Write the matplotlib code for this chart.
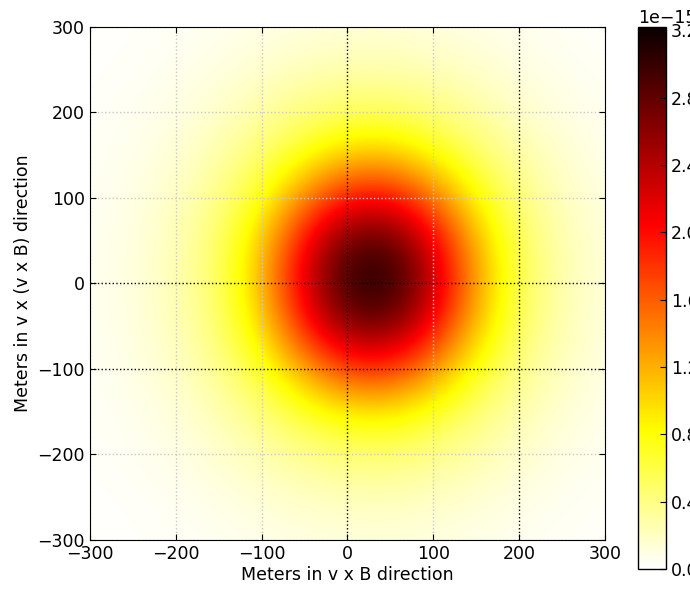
import numpy as np
import matplotlib
matplotlib.use('Agg')
import matplotlib.pyplot as plt

# grid node positions (m)
x_pos = [-300, -250, -200, -150, -100, -50, 0, 50, 100, 150, 200, 250, 300]
y_pos = [300, 250, 200, 150, 100, 50, 0, -50, -100, -150, -200, -250, -300]

# field values, units of 1e-15, rows top (y=300) to bottom
row_p300 = [0.012, 0.022, 0.035, 0.059, 0.082, 0.107, 0.124, 0.126, 0.110, 0.086, 0.062, 0.038, 0.024]
row_p250 = [0.018, 0.033, 0.063, 0.100, 0.158, 0.220, 0.260, 0.260, 0.227, 0.165, 0.104, 0.065, 0.035]
row_p200 = [0.027, 0.052, 0.090, 0.170, 0.285, 0.410, 0.500, 0.510, 0.420, 0.300, 0.180, 0.100, 0.056]
row_p150 = [0.034, 0.070, 0.140, 0.270, 0.470, 0.760, 1.060, 1.080, 0.800, 0.500, 0.290, 0.150, 0.073]
row_p100 = [0.044, 0.087, 0.190, 0.375, 0.740, 1.400, 1.970, 2.010, 1.490, 0.800, 0.410, 0.210, 0.096]
row_p050 = [0.050, 0.100, 0.230, 0.470, 1.050, 2.020, 2.790, 2.830, 2.130, 1.140, 0.510, 0.250, 0.110]
row_0 = [0.052, 0.106, 0.240, 0.500, 1.150, 2.230, 3.060, 3.120, 2.360, 1.270, 0.550, 0.260, 0.115]
row_m050 = [0.049, 0.100, 0.220, 0.450, 0.980, 1.920, 2.650, 2.700, 2.030, 1.090, 0.500, 0.240, 0.108]
row_m100 = [0.042, 0.084, 0.180, 0.353, 0.690, 1.260, 1.780, 1.820, 1.340, 0.740, 0.380, 0.200, 0.090]
row_m150 = [0.033, 0.066, 0.125, 0.245, 0.430, 0.680, 0.910, 0.930, 0.710, 0.450, 0.265, 0.140, 0.070]
row_m200 = [0.025, 0.048, 0.084, 0.155, 0.250, 0.360, 0.440, 0.450, 0.370, 0.270, 0.165, 0.090, 0.052]
row_m250 = [0.016, 0.031, 0.056, 0.088, 0.140, 0.190, 0.225, 0.230, 0.200, 0.146, 0.094, 0.060, 0.033]
row_m300 = [0.012, 0.019, 0.032, 0.053, 0.073, 0.097, 0.108, 0.110, 0.100, 0.075, 0.056, 0.034, 0.021]

cbar_ticks = [0.0, 0.4, 0.8, 1.2, 1.6, 2.0, 2.4, 2.8, 3.2]
vmax = 3.22

field = np.array([row_p300, row_p250, row_p200, row_p150, row_p100, row_p050, row_0,
                  row_m050, row_m100, row_m150, row_m200, row_m250, row_m300]) * 1e-15

plt.rcParams['xtick.direction'] = 'in'
plt.rcParams['ytick.direction'] = 'in'
plt.rcParams['xtick.top'] = True
plt.rcParams['ytick.right'] = True

fig = plt.figure(figsize=(6.9, 5.89), dpi=100)
ax = fig.add_axes([0.1304, 0.0832, 0.7464, 0.871])
cax = fig.add_axes([0.9246, 0.034, 0.0406, 0.920])

step = x_pos[1] - x_pos[0]
im = ax.imshow(field, cmap='hot_r', vmin=0, vmax=vmax * 1e-15, interpolation='bicubic',
               extent=[x_pos[0] - step / 2, x_pos[-1] + step / 2,
                       y_pos[-1] - step / 2, y_pos[0] + step / 2],
               origin='upper', aspect='auto')
ax.set_xlim(-300, 300)
ax.set_ylim(-300, 300)
ax.set_xticks(np.arange(-300, 301, 100))
ax.set_yticks(np.arange(-300, 301, 100))
ax.tick_params(labelsize=12.5, length=4)
ax.set_xlabel('Meters in v x B direction', fontsize=12.5, labelpad=2)
ax.set_ylabel('Meters in v x (v x B) direction', fontsize=12.5, labelpad=4)

ax.grid(True, color='k', linestyle=':', linewidth=1.0)
# the grid reads dark on some lines and faint on others
strong_x = [0, 200]
strong_y = [0, -100]
for val, line in zip(ax.get_xticks(), ax.get_xgridlines()):
    if val not in strong_x:
        line.set_color('0.78')
for val, line in zip(ax.get_yticks(), ax.get_ygridlines()):
    if val not in strong_y:
        line.set_color('0.78')

cb = fig.colorbar(im, cax=cax)
cb.set_ticks([t * 1e-15 for t in cbar_ticks])
cb.ax.tick_params(labelsize=12.5, direction='in', length=4)
cb.outline.set_linewidth(1.0)
offset = cb.ax.yaxis.get_offset_text()
offset.set_fontsize(12.5)
offset.set_ha('left')
offset.set_x(0)

fig.savefig('out.png', dpi=100, facecolor='white')
